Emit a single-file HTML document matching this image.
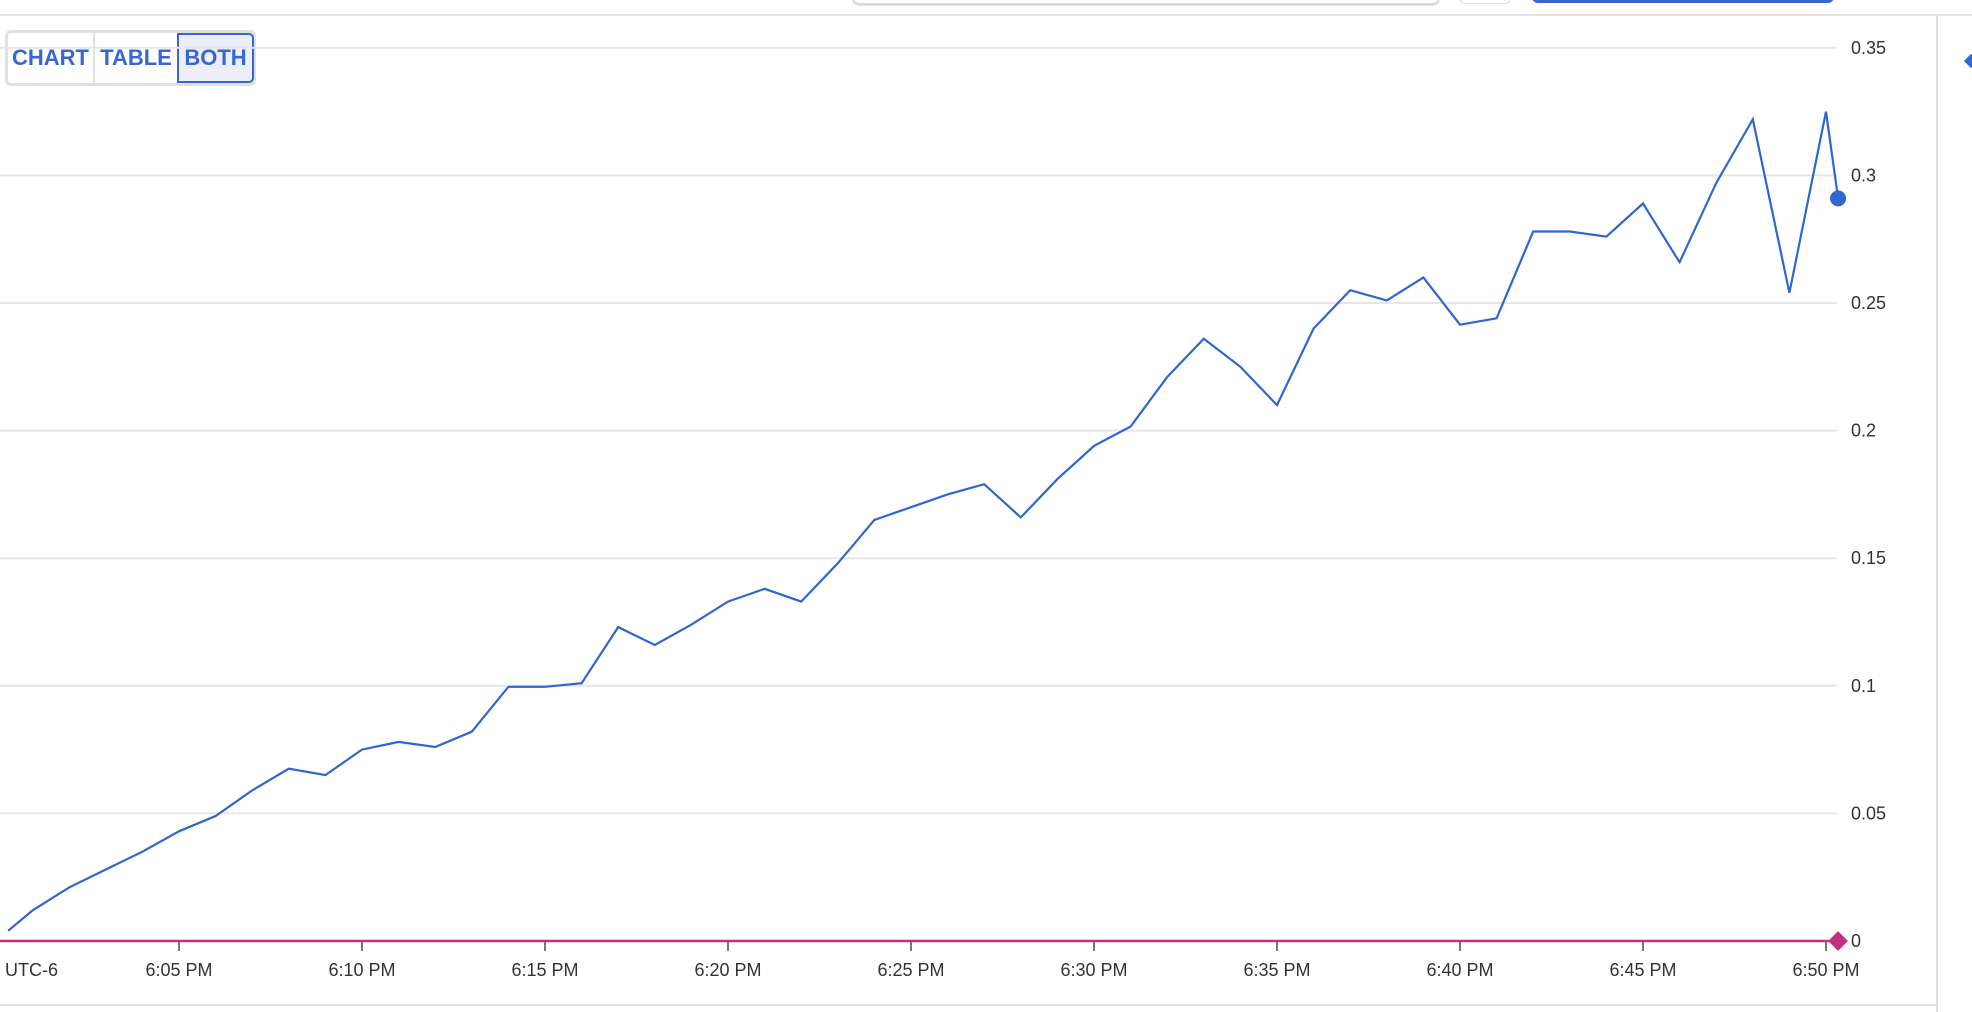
<!DOCTYPE html>
<html><head><meta charset="utf-8">
<style>
html,body{margin:0;padding:0;background:#fff;width:1972px;height:1012px;overflow:hidden;font-family:"Liberation Sans",sans-serif;}
#wrap{position:relative;width:1972px;height:1012px;}
.btn{position:absolute;top:33px;height:50px;line-height:50px;text-align:center;color:#3a66d1;font-size:22px;font-weight:bold;box-sizing:border-box;overflow:hidden;white-space:nowrap;}
</style></head>
<body>
<div id="wrap">
<div style="position:absolute;left:853px;top:-10px;width:584px;height:12px;border:1px solid #ddd;border-radius:6px;box-shadow:0 1px 2px #bbb;background:#fff"></div>
<div style="position:absolute;left:1459px;top:-10px;width:50px;height:12px;border:1px solid #ddd;border-radius:6px;background:#fff"></div>
<div style="position:absolute;left:1532px;top:-10px;width:302px;height:13px;background:#3a66d1;border-radius:6px"></div>
<div style="position:absolute;left:0;top:14px;width:1972px;height:2px;background:#e2e2e2"></div>
<div style="position:absolute;left:5px;top:30px;width:251px;height:56px;border:3px solid #e0e0e0;border-radius:6px;box-sizing:border-box;background:#fff"></div>
<div class="btn" style="left:8px;width:87px;border-right:2px solid #e0e0e0">CHART</div>
<div class="btn" style="left:95px;width:82px">TABLE</div>
<div class="btn" style="left:177px;width:77px;background:#eceff9;border:2px solid #3a66d1;border-radius:0 5px 5px 0;line-height:46px">BOTH</div>
<div style="position:absolute;left:1936px;top:16px;width:2px;height:996px;background:#e0e0e0"></div>
<div style="position:absolute;left:0;top:1004px;width:1937px;height:2px;background:#e0e0e0"></div>
<div style="position:absolute;left:1966px;top:56px;width:10px;height:10px;background:#3a66d1;transform:rotate(45deg)"></div>
<svg id="chart" width="1972" height="1012" style="position:absolute;left:0;top:0"></svg>
</div>
<script>
const yTicks=[0,0.05,0.1,0.15,0.2,0.25,0.3,0.35];
const yTickLabels=["0","0.05","0.1","0.15","0.2","0.25","0.3","0.35"];
const xTicks=[5,10,15,20,25,30,35,40,45,50];
const xTickLabels=["6:05 PM","6:10 PM","6:15 PM","6:20 PM","6:25 PM","6:30 PM","6:35 PM","6:40 PM","6:45 PM","6:50 PM"];
const minutes=[0.33,1,2,3,4,5,6,7,8,9,10,11,12,13,14,15,16,17,18,19,20,21,22,23,24,25,26,27,28,29,30,31,32,33,34,35,36,37,38,39,40,41,42,43,44,45,46,47,48,49,50,50.33];
const values=[0.004,0.012,0.021,0.028,0.035,0.043,0.049,0.059,0.0675,0.065,0.075,0.078,0.076,0.082,0.0996,0.0996,0.101,0.123,0.116,0.124,0.133,0.138,0.133,0.148,0.165,0.170,0.175,0.179,0.166,0.181,0.194,0.2016,0.221,0.236,0.225,0.210,0.240,0.255,0.251,0.260,0.2415,0.244,0.278,0.278,0.276,0.289,0.266,0.297,0.322,0.254,0.325,0.291];
const svg=document.getElementById('chart');const NS='http://www.w3.org/2000/svg';
const x=m=>1826+(m-50)*36.6;
const y=v=>941-v/0.05*127.6;
function mk(t,a){const e=document.createElementNS(NS,t);for(const k in a)e.setAttribute(k,a[k]);svg.appendChild(e);return e;}
yTicks.forEach((v,i)=>{
 if(v>0){const g=mk('line',{x1:0,x2:1837,y1:y(v),y2:y(v),stroke:'#e6e6e6','stroke-width':2});
 
 }
 const t=mk('text',{x:1851,y:y(v)+6,'font-size':18,fill:'#333','font-family':'Liberation Sans, sans-serif'});t.textContent=yTickLabels[i];
 
 
});
xTicks.forEach((m,i)=>{
 const tk=mk('line',{x1:x(m),x2:x(m),y1:941,y2:951,stroke:'#777','stroke-width':2});
 
 
 const t=mk('text',{x:x(m),y:976,'font-size':18,fill:'#333','text-anchor':'middle','font-family':'Liberation Sans, sans-serif'});t.textContent=xTickLabels[i];
 
 
});
const tz=mk('text',{x:5,y:976,'font-size':18,fill:'#333','font-family':'Liberation Sans, sans-serif'});tz.textContent='UTC-6';


const base=mk('line',{x1:0,x2:x(minutes[minutes.length-1]),y1:y(0),y2:y(0),stroke:'#c2317f','stroke-width':2.5});


const dm=mk('rect',{x:-7,y:-7,width:14,height:14,fill:'#c2317f',transform:`translate(${x(minutes[minutes.length-1])},${y(0)}) rotate(45)`});


const pts=minutes.map((m,i)=>x(m).toFixed(1)+','+y(values[i]).toFixed(1)).join(' ');
const pl=mk('polyline',{points:pts,fill:'none',stroke:'#2f66d0','stroke-width':2.2,'stroke-linejoin':'miter'});


const n=minutes.length-1;
const c=mk('circle',{cx:x(minutes[n]),cy:y(values[n]),r:8,fill:'#2f66d0'});


</script>
</body></html>
